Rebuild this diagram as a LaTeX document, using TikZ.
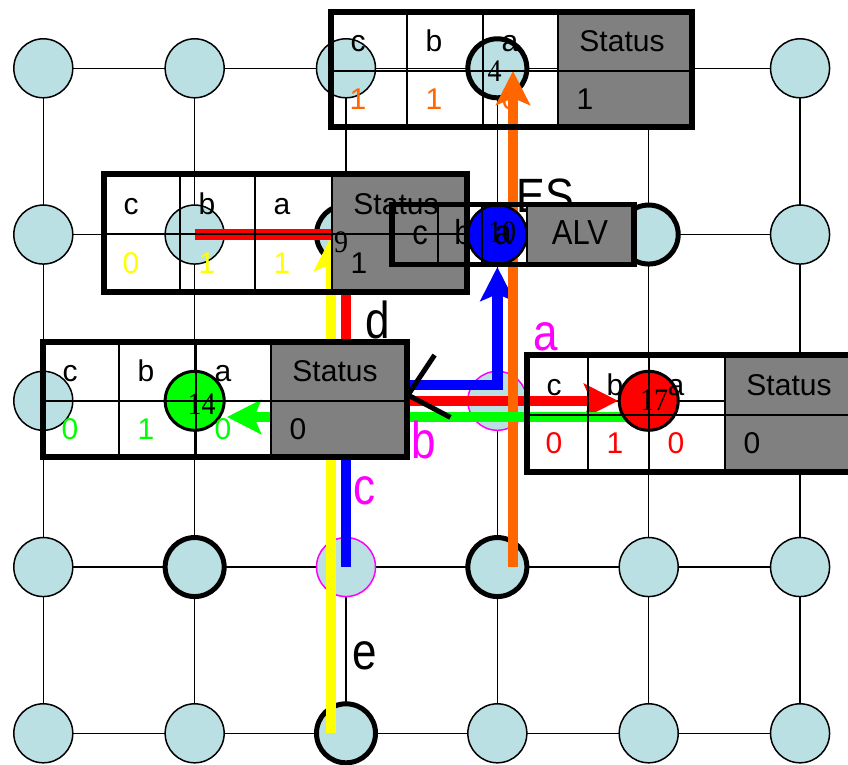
\documentclass[tikz,border=0pt]{standalone}
\usepackage{fontspec}
\setmainfont{Liberation Sans}
\newfontfamily\serifnum{Liberation Serif}
\usetikzlibrary{arrows.meta,calc}
\definecolor{dotfill}{RGB}{187,224,227}
\definecolor{statgray}{RGB}{128,128,128}
\definecolor{orng}{RGB}{255,102,0}
\definecolor{ylw}{RGB}{255,255,0}
\definecolor{grn}{RGB}{0,255,0}
\definecolor{blu}{RGB}{0,0,255}
\definecolor{mag}{RGB}{255,0,255}
\definecolor{rd}{RGB}{255,0,0}
\tikzset{
  gridline/.style={line width=1.5pt},
  dot/.style={circle, draw, line width=1.5pt, fill=dotfill, minimum size=59pt, inner sep=0pt},
  thickdot/.style={dot, line width=5pt},
  magdot/.style={dot, draw=mag},
  route/.style={line width=10.5pt, -{Stealth[length=34pt,width=34pt,inset=7pt]}},
  plainroute/.style={line width=10.5pt},
  tabline/.style={line width=2pt},
  tabframe/.style={line width=5.5pt},
  tabtxt/.style={font=\fontsize{30}{30}\selectfont, inner sep=0pt, anchor=base},
  alvtxt/.style={font=\fontsize{31}{31}\selectfont, inner sep=0pt, anchor=base},
  numlab/.style={font=\serifnum\fontsize{28}{28}\selectfont, inner sep=0pt},
  biglet/.style={font=\fontsize{44}{44}\selectfont, inner sep=0pt},
  xmark/.style={line width=5pt}
}
\newcommand{\setvals}[4]{\def\tvc{#1}\def\tvb{#2}\def\tva{#3}\def\tvs{#4}}
\newcommand{\drawtab}[9]{%
  \pgfmathsetmacro\tmid{(#7+#8)/2+1.3}%
  \pgfmathsetmacro\tbla{#7+0.25*(#8-#7)+11}%
  \pgfmathsetmacro\tblb{#7+0.75*(#8-#7)+11}%
  \fill[statgray] (#5,#7) rectangle (#6,#8);
  \draw[tabline] (#2,\tmid) -- (#6,\tmid) (#3,#7) -- (#3,#8) (#4,#7) -- (#4,#8) (#5,#7) -- (#5,#8);
  \draw[tabframe] (#2,#7) rectangle (#6,#8);
  \node[tabtxt] (#1hc) at (#2+27,\tbla) {c};
  \node[tabtxt] (#1hb) at (#3+27,\tbla) {b};
  \node[tabtxt] (#1ha) at (#4+27,\tbla) {a};
  \node[tabtxt] (#1hs) at (#5+64,\tbla) {Status};
  \node[tabtxt,text=#9] (#1vc) at (#2+27,\tblb) {\tvc};
  \node[tabtxt,text=#9] (#1vb) at (#3+27,\tblb) {\tvb};
  \node[tabtxt,text=#9] (#1va) at (#4+27,\tblb) {\tva};
  \node[tabtxt] (#1vs) at (#5+27,\tblb) {\tvs};
}
\begin{document}
\begin{tikzpicture}[x=1pt,y=-1pt]
\useasboundingbox (0,0) rectangle (848,765);
% grid coordinates
\foreach \i in {0,...,5}{
  \foreach \j in {0,...,4}{
    \coordinate (p\i\j) at ({43.3+151.35*\i},{68.3+166.25*\j});
  }
}
% grid lines
\foreach \i in {0,...,5}{
  \foreach \j in {0,...,3}{
    \pgfmathtruncatemacro\jn{\j+1}
    \draw[gridline] (p\i\j) -- (p\i\jn);
  }
}
\foreach \j in {0,...,4}{
  \foreach \i in {0,...,4}{
    \pgfmathtruncatemacro\in{\i+1}
    \draw[gridline] (p\i\j) -- (p\in\j);
  }
}
% plain circles
\foreach \i/\j in {0/0,1/0,2/0,4/0,5/0,0/1,1/1,5/1,0/2,2/2,5/2,0/3,4/3,5/3,0/4,1/4,3/4,4/4,5/4}
  \node[dot] (c\i\j) at (p\i\j) {};
\foreach \i/\j in {3/0,2/1,4/1,1/3,3/3,2/4}
  \node[thickdot] (c\i\j) at (p\i\j) {};
\foreach \i/\j in {3/2,2/3}
  \node[magdot] (c\i\j) at (p\i\j) {};
% ES label (beneath ALV table)
\node[font=\fontsize{43}{43}\selectfont, inner sep=0pt, anchor=north west] (es) at (516.5,179) {\scalebox{1}[1.12]{ES}};
% routes
\coordinate (ys) at (331,733);
\coordinate (ye) at (331,237);
\coordinate (re) at (618,400.8);
\coordinate (bc1) at (346,385);
\coordinate (bc2) at (497.35,385);
\coordinate (be) at (497.35,267);
\coordinate (os) at (513,567);
\coordinate (oe) at (513,71);
\coordinate (gs) at (640,417);
\coordinate (ge) at (227,417);
\draw[route, ylw] (ys) -- (ye);
\draw[route, rd] (p11) -- (p21) -- (p22) -- (re);
\draw[route, blu] (p23) -- (bc1) -- (bc2) -- (be);
\draw[route, orng] (os) -- (oe);
\draw[route, grn] (gs) -- (ge);
% X mark
\coordinate (xa1) at (381.4,435);
\coordinate (xa2) at (434.6,355);
\coordinate (xb1) at (365.6,372.6);
\coordinate (xb2) at (450.4,417.4);
\draw[xmark] (xa1) -- (xa2);
\draw[xmark] (xb1) -- (xb2);
% coloured circles
\node[dot, fill=blu, line width=2.5pt] (c31) at (p31) {};
\node[dot, fill=grn, line width=3pt] (c12) at (p12) {};
\node[dot, fill=rd, line width=3pt] (c42) at (p42) {};
% tables
\setvals{1}{1}{0}{1}
\drawtab{tA}{331}{407}{483}{558}{692}{12}{127}{orng}
\setvals{0}{1}{1}{1}
\drawtab{tB}{104}{180}{255}{332}{467}{174}{292}{ylw}
% ALV table
\fill[statgray] (527,204.5) rectangle (634,264.5);
\draw[tabline] (438,204.5) -- (438,264.5) (482,204.5) -- (482,264.5) (527,204.5) -- (527,264.5);
\draw[tabframe] (392,204.5) rectangle (634,264.5);
\node[alvtxt] (alvc) at (420,244) {\scalebox{1}[1.12]{c}};
\node[alvtxt] (alvb) at (463,244) {\scalebox{1}[1.12]{b}};
\node[alvtxt] (alva) at (503,244) {\scalebox{1}[1.12]{a}};
\node[alvtxt] (alvs) at (580,244) {\scalebox{1}[1.12]{ALV}};
\setvals{0}{1}{0}{0}
\drawtab{tC}{43}{119}{196}{271}{407}{342}{457}{grn}
\setvals{0}{1}{0}{0}
\drawtab{tD}{527}{588}{649}{725}{856}{355}{472}{rd}
% circle numbers
\node[numlab] (l4) at (494.5,71) {\scalebox{1}[1.12]{4}};
\node[numlab] (l9) at (341,242) {\scalebox{1}[1.12]{9}};
\node[numlab] (l10) at (502,232) {\scalebox{1}[1.12]{10}};
\node[numlab] (l14) at (201.7,404) {\scalebox{1}[1.12]{14}};
\node[numlab] (l17) at (654,400) {\scalebox{1}[1.12]{17}};
% big letters
\node[biglet] (ld) at (378,320) {\scalebox{1}[1.18]{d}};
\node[biglet, text=mag] (la) at (546,337) {\scalebox{1}[1.18]{a}};
\node[biglet, text=mag] (lb) at (424,440) {\scalebox{1}[1.18]{b}};
\node[biglet, text=mag] (lc) at (364,491) {\scalebox{1}[1.18]{c}};
\node[biglet] (le) at (365,656) {\scalebox{1}[1.18]{e}};
\end{tikzpicture}
\end{document}
